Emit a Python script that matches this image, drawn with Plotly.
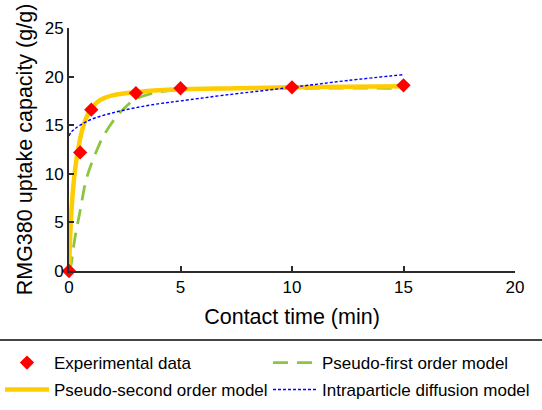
import plotly.graph_objects as go

# Experimental data
exp_t = [0, 0.5, 1, 3, 5, 10, 15]
exp_q = [0, 12.2, 16.6, 18.3, 18.8, 18.9, 19.1]

# Pseudo-first order model
pfo_t = [0, 0.05, 0.25, 0.5, 0.75, 1.0, 1.3, 1.5, 2.0, 2.5, 3.0, 4.0, 5.0, 7.0, 10.0, 15.0]
pfo_q = [0, 0.2, 3.2, 6.2, 9.2, 11.0, 12.7, 13.7, 15.5, 16.8, 17.7, 18.4, 18.65, 18.75, 18.8, 18.8]

# Pseudo-second order model
pso_t = [0, 0.05, 0.1, 0.2, 0.3, 0.4, 0.6, 0.8, 1.0, 1.4, 2.0, 3.0, 4.0, 5.0, 7.5, 10.0, 15.0]
pso_q = [0, 3.5, 5.8, 8.9, 10.9, 12.4, 14.6, 15.9, 16.7, 17.6, 18.1, 18.4, 18.6, 18.7, 18.8, 18.9, 19.0]

# Intraparticle diffusion model
ipd_t = [0, 0.1, 0.25, 0.5, 1, 2, 3, 4, 5, 7, 10, 12.5, 15]
ipd_q = [13.9, 14.3, 14.6, 15.0, 15.6, 16.3, 16.8, 17.2, 17.5, 18.1, 18.9, 19.6, 20.2]

x_ticks = [0, 5, 10, 15, 20]
y_ticks = [0, 5, 10, 15, 20, 25]

FONT = "Arial, Liberation Sans, sans-serif"
AX = "#2b2b2b"

fig = go.Figure()
fig.add_trace(go.Scatter(x=pfo_t, y=pfo_q, mode="lines", name="Pseudo-first order model",
                         line=dict(color="#8CC63F", width=2.8, dash="15px,9px", shape="spline"),
                         legend="legend2"))
fig.add_trace(go.Scatter(x=pso_t, y=pso_q, mode="lines", name="Pseudo-second order model",
                         line=dict(color="#FFCC00", width=4.5, shape="spline"),
                         legend="legend3"))
fig.add_trace(go.Scatter(x=ipd_t, y=ipd_q, mode="lines", name="Intraparticle diffusion model",
                         line=dict(color="#0000FF", width=1.4, dash="3px,2px", shape="spline"),
                         legend="legend4"))
fig.add_trace(go.Scatter(x=exp_t, y=exp_q, mode="markers", name="Experimental data",
                         marker=dict(symbol="diamond", color="#FF0000", size=11),
                         cliponaxis=False, legend="legend"))

W, H = 542, 410
ML, MR, MT, MB = 69, 27, 28, 139
PW, PH = W - ML - MR, H - MT - MB


def px_x(px):
    return (px - ML) / PW


def px_y(py):
    return (H - MB - py) / PH


leg_common = dict(orientation="h", xanchor="left", yanchor="middle", itemwidth=44,
                  font=dict(size=17), bgcolor="rgba(0,0,0,0)", borderwidth=0)

fig.update_layout(
    width=W, height=H,
    margin=dict(l=ML, r=MR, t=MT, b=MB, autoexpand=False),
    paper_bgcolor="white", plot_bgcolor="white",
    font=dict(family=FONT, color="black", size=17),
    xaxis=dict(range=[0, 20], tickvals=x_ticks, ticks="inside", ticklen=5, tickwidth=1.5,
               tickcolor=AX, showline=True, linecolor=AX, linewidth=2,
               showgrid=False, zeroline=False, tickfont=dict(size=17),
               title=dict(text="Contact time (min)", font=dict(size=21.5), standoff=13)),
    yaxis=dict(range=[0, 25], tickvals=y_ticks, ticks="inside", ticklen=5, tickwidth=1.5,
               tickcolor=AX, showline=True, linecolor=AX, linewidth=2,
               showgrid=False, zeroline=False, tickfont=dict(size=17),
               title=dict(text="RMG380 uptake capacity (g/g)", font=dict(size=21.5), standoff=6)),
    legend=dict(x=px_x(0), y=px_y(363), **leg_common),
    legend2=dict(x=px_x(268), y=px_y(363), **leg_common),
    legend3=dict(x=px_x(0), y=px_y(390), **leg_common),
    legend4=dict(x=px_x(268), y=px_y(390), **leg_common),
    shapes=[dict(type="line", xref="paper", yref="paper", x0=px_x(0), x1=px_x(W),
                 y0=px_y(340), y1=px_y(340), line=dict(color="#444", width=2))],
    showlegend=True,
)

fig.write_html("out.html", config={"displayModeBar": False},
               post_script="document.body.style.margin='0';document.body.style.overflow='hidden';")
